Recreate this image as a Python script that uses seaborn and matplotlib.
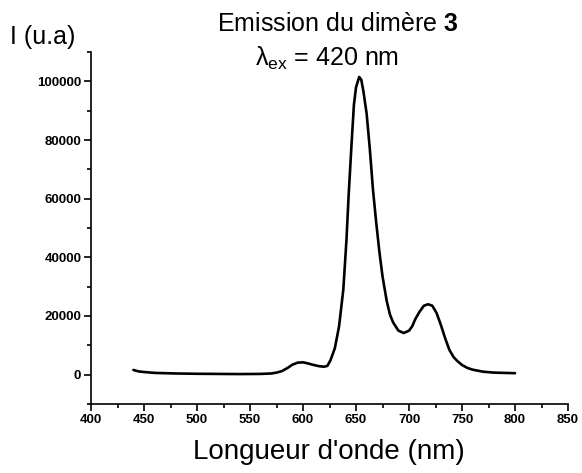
import matplotlib
matplotlib.use("Agg")
import matplotlib.pyplot as plt
import seaborn as sns
import pandas as pd
from matplotlib.ticker import MultipleLocator

wavelength = [440, 445, 450, 460, 480, 500, 520, 540, 560, 570, 575, 580, 585, 590, 595, 600,
              605, 610, 615, 620, 623, 626, 630, 634, 638, 641, 643, 646, 648, 650, 653, 655,
              657, 660, 663, 666, 669, 672, 675, 679, 682, 685, 690, 695, 700, 703, 706, 710,
              714, 718, 722, 726, 730, 734, 738, 742, 746, 750, 755, 760, 770, 780, 790, 800]
intensity = [1600, 1100, 900, 600, 400, 300, 250, 200, 250, 400, 700, 1200, 2200, 3400, 4100, 4200,
             3800, 3300, 2900, 2700, 3000, 5000, 9000, 16500, 29000, 46000, 61000, 80000, 92000, 98000, 101500, 100500,
             96500, 89000, 77000, 63000, 52000, 42000, 33500, 25000, 20500, 17800, 15000, 14200, 15000, 16500, 19000, 21500,
             23500, 24000, 23500, 21000, 17000, 12500, 8500, 6000, 4500, 3300, 2300, 1700, 1000, 700, 600, 500]

df = pd.DataFrame({"wavelength": wavelength, "intensity": intensity})

sns.set_style("ticks")
plt.rcParams['font.family'] = ['Liberation Sans', 'DejaVu Sans']
plt.rcParams['text.color'] = 'black'
plt.rcParams['axes.labelcolor'] = 'black'
plt.rcParams['xtick.color'] = 'black'
plt.rcParams['ytick.color'] = 'black'
plt.rcParams['mathtext.fontset'] = 'custom'
plt.rcParams['mathtext.rm'] = 'Liberation Sans'
plt.rcParams['mathtext.it'] = 'Liberation Sans:italic'
plt.rcParams['mathtext.bf'] = 'Liberation Sans:bold'

fig = plt.figure(figsize=(5.82, 4.73), dpi=100)
ax = fig.add_axes([0.1564, 0.1459, 0.976 - 0.1564, 0.890 - 0.1459])

sns.lineplot(data=df, x="wavelength", y="intensity", color="black", linewidth=1.9, ax=ax)

ax.set_xlim(400, 850)
ax.set_ylim(-10000, 110000)
ax.xaxis.set_major_locator(MultipleLocator(50))
ax.xaxis.set_minor_locator(MultipleLocator(25))
ax.yaxis.set_minor_locator(MultipleLocator(10000))
ax.set_yticks([0, 20000, 40000, 60000, 80000, 100000])
ax.set_yticklabels(["0", "20000", "40000", "60000", "80000", "100000"])
ax.tick_params(axis='both', which='major', length=5, width=1.2, labelsize=9.5, pad=2, colors='black')
ax.tick_params(axis='both', which='minor', length=3, width=1.2, colors='black')
for lab in ax.get_xticklabels() + ax.get_yticklabels():
    lab.set_fontweight('bold')

for s in ['top', 'right']:
    ax.spines[s].set_visible(False)
for s in ['left', 'bottom']:
    ax.spines[s].set_linewidth(1.2)
    ax.spines[s].set_color('black')

ax.set_xlabel("")
ax.set_ylabel("")

fig.text(329 / 582, 1 - 452 / 473, "Longueur d'onde (nm)", fontsize=20, ha='center', va='center', color='black')
fig.text(10 / 582, 1 - 37 / 473, "I (u.a)", fontsize=18, ha='left', va='center', color='black')
fig.text(338 / 582, 1 - 24 / 473, r"Emission du dimère $\mathbf{3}$", fontsize=18, ha='center', va='center', color='black')
fig.text(327 / 582, 1 - 58 / 473, "λ$_{\\mathrm{ex}}$ = 420 nm", fontsize=18, ha='center', va='center', color='black')

fig.savefig("out.png", dpi=100)
